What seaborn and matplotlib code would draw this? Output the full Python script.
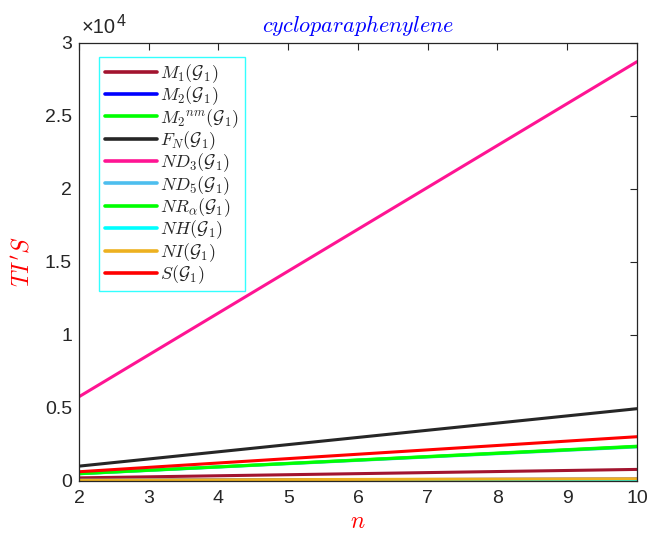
import numpy as np
import pandas as pd
import matplotlib
matplotlib.use("Agg")
import matplotlib.pyplot as plt
import seaborn as sns
from matplotlib.ticker import FuncFormatter
from matplotlib.lines import Line2D

n = [2, 3, 4, 5, 6, 7, 8, 9, 10]
M1 = [180, 252, 325, 397, 470, 542, 615, 687, 760]
M2 = [20, 30, 40, 50, 60, 70, 80, 90, 100]
M2nm = [470, 705, 940, 1175, 1410, 1645, 1880, 2115, 2350]
FN = [984, 1476, 1968, 2460, 2952, 3444, 3936, 4428, 4920]
ND3 = [5740, 8610, 11480, 14350, 17220, 20090, 22960, 25830, 28700]
ND5 = [460, 690, 920, 1150, 1380, 1610, 1840, 2070, 2300]
NRa = [465, 698, 930, 1163, 1395, 1628, 1860, 2093, 2325]
NH = [4, 6, 8, 10, 12, 14, 16, 18, 20]
NI = [24, 36, 48, 60, 72, 84, 96, 108, 120]
S = [600, 900, 1200, 1500, 1800, 2100, 2400, 2700, 3000]

labels = [r"$M_1(\mathcal{G}_1)$", r"$M_2(\mathcal{G}_1)$", r"$M_2{}^{nm}(\mathcal{G}_1)$",
          r"$F_N(\mathcal{G}_1)$", r"$ND_3(\mathcal{G}_1)$", r"$ND_5(\mathcal{G}_1)$",
          r"$NR_\alpha(\mathcal{G}_1)$", r"$NH(\mathcal{G}_1)$", r"$NI(\mathcal{G}_1)$",
          r"$S(\mathcal{G}_1)$"]
series = [M1, M2, M2nm, FN, ND3, ND5, NRa, NH, NI, S]
colors = ["#A2142F", "#0000FF", "#00FF00", "#262626", "#FF1493", "#4DBEEE",
          "#00FF00", "#00FFFF", "#EDB120", "#FF0000"]

rows = []
for lab, vals in zip(labels, series):
    for x, v in zip(n, vals):
        rows.append({"n": x, "value": v, "index": lab})
df = pd.DataFrame(rows)

sns.set_style("white")
plt.rcParams["font.family"] = ["Liberation Sans", "DejaVu Sans"]
plt.rcParams["mathtext.fontset"] = "cm"

fig = plt.figure(figsize=(6.51, 5.33), dpi=100)
ax = fig.add_axes([79/651, 1-480.5/533, 558/651, 437.8/533])

sns.lineplot(data=df, x="n", y="value", hue="index", hue_order=labels,
             palette=dict(zip(labels, colors)), linewidth=2.2, ax=ax,
             legend=False, estimator=None, sort=True)

ax.set_xlim(2, 10)
ax.set_ylim(0, 30000)
ax.set_xticks(n)
ax.set_yticks([0, 5000, 10000, 15000, 20000, 25000, 30000])
ax.yaxis.set_major_formatter(FuncFormatter(lambda v, p: f"{v/1e4:g}"))
ax.tick_params(direction="in", length=5, width=0.8, colors="#262626",
               labelsize=14, top=True, right=True, labelcolor="#262626")
ax.tick_params(axis="x", pad=7)
ax.tick_params(axis="y", pad=5)
for s in ax.spines.values():
    s.set_color("#262626")
    s.set_linewidth(0.9)

fam = ["Liberation Sans", "DejaVu Sans"]
ax.annotate("\u00d710", xy=(0, 1), xycoords="axes fraction", xytext=(2, 4),
            textcoords="offset points", fontsize=14.5, color="#262626",
            ha="left", va="bottom", fontfamily=fam)
ax.annotate("4", xy=(0, 1), xycoords="axes fraction", xytext=(27, 10),
            textcoords="offset points", fontsize=11.5, color="#262626",
            ha="left", va="bottom", fontfamily=fam)

ax.set_title(r"$\mathit{cycloparaphenylene}$", color="#0000FF", fontsize=16, pad=8)
ax.set_xlabel(r"$n$", color="red", fontsize=17, labelpad=3)
ax.set_ylabel(r"$TI'S$", color="red", fontsize=17, labelpad=8)

handles = [Line2D([], [], color=c, lw=2.6) for c in colors]
leg = ax.legend(handles, labels, loc="upper left", bbox_to_anchor=(0.036, 0.968),
                fontsize=13, frameon=True, fancybox=False, handlelength=2.9,
                handletextpad=0.2, labelspacing=-0.02, borderpad=0.3,
                borderaxespad=0.0)
leg.get_frame().set_edgecolor("#00FFFF")
leg.get_frame().set_linewidth(1.0)

fig.savefig("out.png", dpi=100)
